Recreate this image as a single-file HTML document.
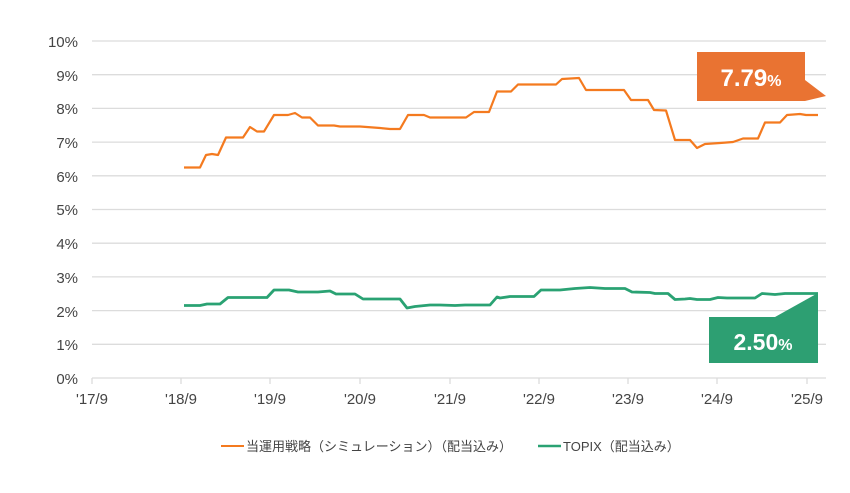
<!DOCTYPE html>
<html><head><meta charset="utf-8"><style>
html,body{margin:0;padding:0;background:#fff;}
svg{display:block;font-family:"Liberation Sans","Noto Sans CJK JP",sans-serif;}
</style></head><body>
<svg width="850" height="493" viewBox="0 0 850 493" xmlns="http://www.w3.org/2000/svg">
<g stroke="#dcdcdc" stroke-width="1.3">
<line x1="92" x2="826" y1="41" y2="41"/><line x1="92" x2="826" y1="74.7" y2="74.7"/>
<line x1="92" x2="826" y1="108.4" y2="108.4"/><line x1="92" x2="826" y1="142.1" y2="142.1"/>
<line x1="92" x2="826" y1="175.8" y2="175.8"/><line x1="92" x2="826" y1="209.5" y2="209.5"/>
<line x1="92" x2="826" y1="243.2" y2="243.2"/><line x1="92" x2="826" y1="276.9" y2="276.9"/>
<line x1="92" x2="826" y1="310.6" y2="310.6"/><line x1="92" x2="826" y1="344.3" y2="344.3"/>
<line x1="92" x2="826" y1="378" y2="378"/>
<line x1="92" x2="92" y1="378" y2="384"/><line x1="181" x2="181" y1="378" y2="384"/>
<line x1="270" x2="270" y1="378" y2="384"/><line x1="360" x2="360" y1="378" y2="384"/>
<line x1="450" x2="450" y1="378" y2="384"/><line x1="539" x2="539" y1="378" y2="384"/>
<line x1="628" x2="628" y1="378" y2="384"/><line x1="717" x2="717" y1="378" y2="384"/>
<line x1="807" x2="807" y1="378" y2="384"/>
</g>
<g font-size="15" fill="#444" text-anchor="end">
<text x="78" y="47">10%</text><text x="78" y="81">9%</text><text x="78" y="114">8%</text>
<text x="78" y="148">7%</text><text x="78" y="182">6%</text><text x="78" y="215">5%</text>
<text x="78" y="249">4%</text><text x="78" y="283">3%</text><text x="78" y="317">2%</text>
<text x="78" y="350">1%</text><text x="78" y="384">0%</text>
</g>
<g font-size="15" fill="#444" text-anchor="middle">
<text x="92" y="404">'17/9</text><text x="181" y="404">'18/9</text><text x="270" y="404">'19/9</text>
<text x="360" y="404">'20/9</text><text x="450" y="404">'21/9</text><text x="539" y="404">'22/9</text>
<text x="628" y="404">'23/9</text><text x="717" y="404">'24/9</text><text x="807" y="404">'25/9</text>
</g>
<polyline fill="none" stroke="#f47a1f" stroke-width="2.2" stroke-linejoin="round" points="
184,167.5 200,167.5 206,155 212,154 218,155 226,137.5 243,137.5 250,127 257,131.5 264,131.5 274,115 288,115 295,113 302,117.5 310,117.5 318,125.5 334,125.5 340,126.5 360,126.5 380,128 390,129 400,129 408,115 424,115 430,117.5 466,117.5 474,112 489,112 497,91.5 511,91.5 518,84.5 556,84.5 562,79 579,78 586,90 624,90 631,100 648,100 654,110 666,110.5 675,140 690,140 697,148 705,144 720,143 733,142 743,138.5 758,138.5 765,122.5 780,122.5 787,115 800,114 806,115 818,115"/>
<polyline fill="none" stroke="#2aa273" stroke-width="2.8" stroke-linejoin="round" points="
184,305.5 200,305.5 207,304 220,304 228,297.5 267,297.5 274,290 289,290 298,292 318,292 330,291 336,294 355,294 363,299 400,299 407,308 415,306.5 430,305 440,305 455,305.5 465,305 490,305 497,297 500,298 510,296.5 534,296.5 541,290 560,290 575,288.5 590,287.5 605,288.5 625,288.5 632,292 650,292.5 655,293.5 668,293.5 675,299.5 685,299 690,298.5 697,299.5 710,299.5 718,297.5 727,298 755,298 762,293.5 775,294.5 785,293.5 818,293.5"/>
<polygon points="697,52 805,52 805,80 826,96 805,101 697,101" fill="#e97332"/>
<text x="751" y="86" font-size="24" font-weight="bold" fill="#fff" text-anchor="middle">7.79<tspan font-size="16">%</tspan></text>
<polygon points="709,317 775,317 818,293 818,317 818,363 709,363" fill="#2d9f72"/>
<text x="763" y="350" font-size="23" font-weight="bold" fill="#fff" text-anchor="middle">2.50<tspan font-size="16">%</tspan></text>
<line x1="221" x2="244" y1="446" y2="446" stroke="#f47a1f" stroke-width="2"/>
<text x="246" y="451" font-size="13" fill="#444">当運用戦略（シミュレーション）（配当込み）</text>
<line x1="538" x2="561" y1="446" y2="446" stroke="#2aa273" stroke-width="2.5"/>
<text x="563" y="451" font-size="13" fill="#444">TOPIX（配当込み）</text>
</svg>
</body></html>
